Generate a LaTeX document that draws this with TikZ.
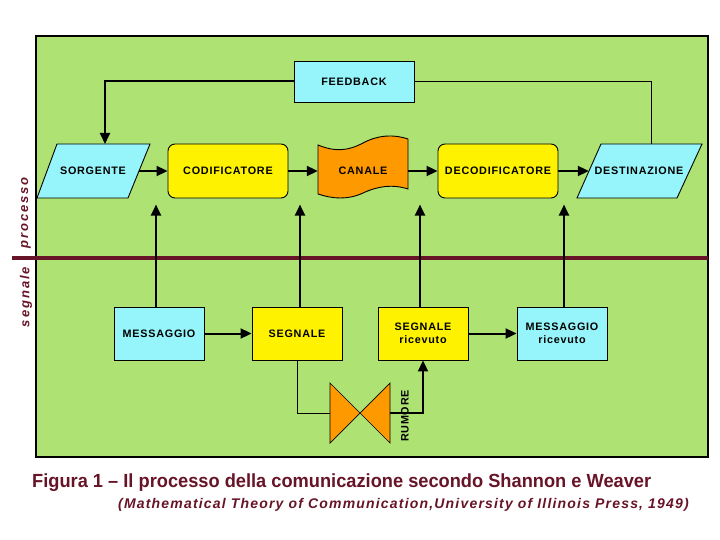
\documentclass[tikz,border=0pt]{standalone}
\usepackage{fontspec}
\usepackage{graphicx}
\setmainfont{Liberation Sans}
\newfontfamily\boxfont[LetterSpace=7]{Liberation Sans}
\newfontfamily\sidefont[LetterSpace=15]{Liberation Sans}
\newfontfamily\capfont[FakeStretch=0.96]{Liberation Sans}
\newfontfamily\subfont[LetterSpace=8.5]{Liberation Sans}
\usetikzlibrary{arrows.meta}
\definecolor{bggreen}{RGB}{174,226,115}
\definecolor{lcyan}{RGB}{150,245,250}
\definecolor{maroonc}{RGB}{104,20,40}
\definecolor{orng}{RGB}{255,153,0}
\tikzset{
  boxtxt/.style={font=\boxfont\bfseries\fontsize{10.8}{13}\selectfont, align=center, inner sep=0pt},
  sq/.style={boxtxt, draw=black, line width=0.9pt, minimum width=90pt, minimum height=53pt},
  rbox/.style={boxtxt, draw=black, line width=0.9pt, fill=yellow, rounded corners=7pt, minimum width=120pt, minimum height=54pt},
  shapeline/.style={draw=black, line width=0.9pt},
  thickarr/.style={line width=2pt, -{Triangle[length=11pt,width=10pt]}},
  thickln/.style={line width=2pt},
  thinln/.style={line width=1pt},
  sidelbl/.style={font=\sidefont\bfseries\itshape\fontsize{13}{15}\selectfont, text=maroonc, rotate=90, inner sep=0pt}
}
\begin{document}
\begin{tikzpicture}[x=1pt,y=-1pt]
\useasboundingbox (0,0) rectangle (720,540);
% background
\fill[white] (0,0) rectangle (720,540);
\draw[fill=bggreen, line width=1.5pt] (36,36) rectangle (708,457);
% separator line
\draw[maroonc, line width=3.5pt] (12,258) -- (708,258);
% side labels
\node[sidelbl] (proc) at (26,213) {processo};
\node[sidelbl] (segn) at (26,297) {segnale};

% FEEDBACK
\node[sq, fill=lcyan, minimum width=120pt, minimum height=41pt] (fb) at (354,81.5) {FEEDBACK};

% SORGENTE parallelogram
\filldraw[fill=lcyan, shapeline] (37,198) -- (57,144) -- (150,144) -- (128,198) -- cycle;
\node[boxtxt, minimum width=92pt, minimum height=54pt] (sorg) at (93,171) {SORGENTE};

% CODIFICATORE
\node[rbox] (cod) at (228,171) {CODIFICATORE};

% CANALE punched tape
\filldraw[fill=orng, shapeline]
  (318,145) .. controls (335,152) and (348,151) .. (363,143)
  .. controls (378,135) and (393,134) .. (408,139)
  -- (408,189)
  .. controls (393,184) and (378,186) .. (363,193)
  .. controls (348,200) and (333,199) .. (318,194) -- cycle;
\node[boxtxt, minimum width=90pt, minimum height=50pt] (can) at (363,171) {CANALE};

% DECODIFICATORE
\node[rbox] (dec) at (498,171) {DECODIFICATORE};

% DESTINAZIONE parallelogram
\filldraw[fill=lcyan, shapeline] (577,198) -- (601,144) -- (702,144) -- (677,198) -- cycle;
\node[boxtxt, minimum width=100pt, minimum height=54pt] (dest) at (639,171) {DESTINAZIONE};

% bottom boxes
\node[sq, fill=lcyan] (msg) at (159,333.5) {MESSAGGIO};
\node[sq, fill=yellow] (seg) at (297,333.5) {SEGNALE};
\node[sq, fill=yellow] (segr) at (423,333.5) {SEGNALE\\[0pt]ricevuto};
\node[sq, fill=lcyan] (msgr) at (562,333.5) {MESSAGGIO\\[0pt]ricevuto};

% noise bow-tie
\filldraw[fill=orng, draw=black, line width=0.7pt] (330,383) -- (330,443) -- (360,413) -- cycle;
\filldraw[fill=orng, draw=black, line width=0.7pt] (390,383) -- (390,443) -- (360,413) -- cycle;
\coordinate (bowL) at (330,413);
\coordinate (bowR) at (390,413);
\node[boxtxt, rotate=90] (rum) at (405,416) {RUMORE};

% feedback connectors
\coordinate (fbL) at (105,81.5);
\coordinate (fbR) at (651,81.5);
\draw[thickarr] (fb.west) -- (fbL) -- (105,144);
\draw[thinln] (fb.east) -- (fbR) -- (651,144);

% horizontal arrows
\draw[thickarr] (sorg.east) -- (cod.west);
\draw[thickarr] (cod.east) -- (can.west);
\draw[thickarr] (can.east) -- (dec.west);
\draw[thickarr] (dec.east) -- (dest.west);
\draw[thickarr] (msg.east) -- (seg.west);
\draw[thickarr] (segr.east) -- (msgr.west);

% vertical arrows
\draw[thickarr] ([xshift=-3pt]msg.north) -- ++(0,-102);
\draw[thickarr] ([xshift=3pt]seg.north) -- ++(0,-102);
\draw[thickarr] ([xshift=-3pt]segr.north) -- ++(0,-102);
\draw[thickarr] ([xshift=2pt]msgr.north) -- ++(0,-102);

% noise connectors
\draw[thinln] (seg.south) -- (297,413) -- (bowL);
\draw[thickarr] (bowR) -- (423,413) -- (segr.south);

% caption
\node[anchor=west, inner sep=0pt, text=maroonc, font=\capfont\bfseries\fontsize{19}{22}\selectfont] (cap1) at (32,483) {Figura 1 – Il processo della comunicazione secondo Shannon e Weaver};
\node[anchor=west, inner sep=0pt, text=maroonc, font=\subfont\bfseries\itshape\fontsize{14}{16}\selectfont] (cap2) at (118,505) {(Mathematical Theory of Communication,University of Illinois Press, 1949)};
\end{tikzpicture}
\end{document}
